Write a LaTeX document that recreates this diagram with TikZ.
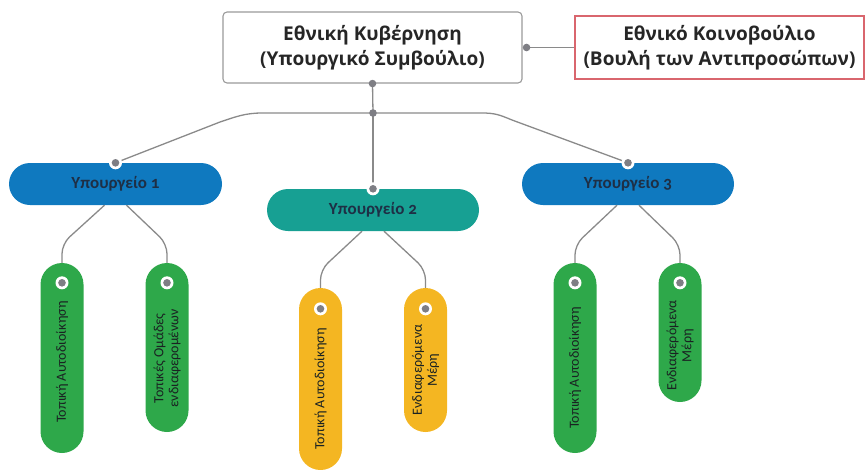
\documentclass[tikz,border=0pt]{standalone}
\usepackage{fontspec}
\setmainfont{Carlito}
\newfontfamily\titlefont{Open Sans}
\newfontfamily\minfont[Numbers=OldStyle]{Carlito}
\usetikzlibrary{calc}
\definecolor{boxgray}{HTML}{9A9A9A}
\definecolor{linegray}{HTML}{8A8A8A}
\definecolor{dotgray}{HTML}{7E7E84}
\definecolor{parlred}{HTML}{D9666E}
\definecolor{mblue}{HTML}{0F79BF}
\definecolor{mteal}{HTML}{17A093}
\definecolor{cgreen}{HTML}{2EA84A}
\definecolor{cyellow}{HTML}{F4B622}
\definecolor{mtext}{HTML}{1E2F45}
\definecolor{ctext}{HTML}{1A2222}
\tikzset{
  govbox/.style={draw=boxgray, line width=1.1pt, rounded corners=4pt, align=center, inner sep=0pt,
    font=\titlefont\bfseries\fontsize{19}{25}\selectfont, text=black!85},
  parlbox/.style={draw=parlred, line width=1.1pt, align=center, inner sep=0pt,
    font=\titlefont\bfseries\fontsize{19}{25}\selectfont, text=black!85},
  ministry/.style={rounded corners=21pt, inner sep=0pt, minimum height=42pt,
    font=\minfont\bfseries\fontsize{17}{18}\selectfont, text=mtext},
  pill/.style={rotate=90, rounded corners=21.5pt, minimum height=43pt, inner sep=0pt},
  pilltext/.style={rotate=90, align=center, inner sep=0pt, text=ctext,
    font=\fontsize{14}{15}\selectfont},
  conn/.style={draw=linegray, line width=1.3pt},
  childconn/.style={draw=linegray, line width=1.3pt, rounded corners=10pt},
}
\newcommand{\halodot}[1]{\fill[white] (#1) circle (6.5pt); \fill[dotgray] (#1) circle (3.8pt);}
\newcommand{\plaindot}[1]{\fill[dotgray] (#1) circle (3.8pt);}
\begin{document}
\begin{tikzpicture}[x=1pt,y=-1pt]
\useasboundingbox (0,0) rectangle (867,469);

% top boxes
\node[govbox, minimum width=299pt, minimum height=71pt] (gov) at (372.5,47.5)
  {Εθνική Κυβέρνηση\\(Υπουργικό Συμβούλιο)};
\node[parlbox, minimum width=289pt, minimum height=63pt] (parl) at (719.5,47.5)
  {Εθνικό Κοινοβούλιο\\(Βουλή των Αντιπροσώπων)};
\coordinate (j) at (373,113);

% ministries
\node[ministry, fill=mblue, minimum width=213pt] (m1) at (115.5,184) {Υπουργείο 1};
\node[ministry, fill=mteal, minimum width=212pt] (m2) at (373,210) {Υπουργείο 2};
\node[ministry, fill=mblue, minimum width=212pt] (m3) at (628,184) {Υπουργείο 3};

% children
\node[pill, fill=cgreen, minimum width=190pt] (c11) at (62,358) {};
\node[pill, fill=cgreen, minimum width=169pt] (c12) at (167,347.5) {};
\node[pill, fill=cyellow, minimum width=182pt] (c21) at (320.5,379) {};
\node[pill, fill=cyellow, minimum width=144pt] (c22) at (425.5,360) {};
\node[pill, fill=cgreen, minimum width=190pt] (c31) at (575,358) {};
\node[pill, fill=cgreen, minimum width=139pt] (c32) at (680,332.5) {};

\node[pilltext] (t11) at ($(c11)+(0,4)$) {Τοπική Αυτοδιοίκηση};
\node[pilltext] (t12) at ($(c12)+(0,11)$) {Τοπικές Ομάδες\\ενδιαφερομένων};
\node[pilltext] (t21) at ($(c21)+(0,10)$) {Τοπική Αυτοδιοίκηση};
\node[pilltext] (t22) at ($(c22)+(0,10)$) {Ενδιαφερόμενα\\Μέρη};
\node[pilltext] (t31) at ($(c31)+(0,10)$) {Τοπική Αυτοδιοίκηση};
\node[pilltext] (t32) at ($(c32)+(0,13)$) {Ενδιαφερόμενα\\Μέρη};

% connectors top
\draw[conn, line width=1pt] (gov.east) -- (parl.west);
\draw[conn] (gov.south) -- (j);
\draw[conn] (j) -- (m2.north);
\draw[conn] (j) -- (262,113) .. controls (245,113) and (235,117) .. (220,122) -- (m1.north);
\draw[conn] (j) -- (482,113) .. controls (495,113) and (500,115) .. (512,120) -- (m3.north);

% connectors to children
\draw[childconn] ($(m1.south)+(-11,0)$) -- ($(c11.east)+(0,-19)$) -- (c11.east);
\draw[childconn] ($(m1.south)+(11,0)$) -- ($(c12.east)+(0,-19)$) -- (c12.east);
\draw[childconn] ($(m2.south)+(-11,0)$) -- ($(c21.east)+(0,-18)$) -- (c21.east);
\draw[childconn] ($(m2.south)+(11,0)$) -- ($(c22.east)+(0,-18)$) -- (c22.east);
\draw[childconn] ($(m3.south)+(-11,0)$) -- ($(c31.east)+(0,-18)$) -- (c31.east);
\draw[childconn] ($(m3.south)+(11,0)$) -- ($(c32.east)+(0,-18)$) -- (c32.east);

% dots
\plaindot{gov.south}
\plaindot{j}
\plaindot{$(gov.east)+(4,0)$}
\halodot{m1.north}
\halodot{m2.north}
\halodot{m3.north}
\halodot{$(c11.east)+(0,20)$}
\halodot{$(c12.east)+(0,20)$}
\halodot{$(c21.east)+(0,21)$}
\halodot{$(c22.east)+(0,21)$}
\halodot{$(c31.east)+(0,20)$}
\halodot{$(c32.east)+(0,20)$}
\end{tikzpicture}
\end{document}
